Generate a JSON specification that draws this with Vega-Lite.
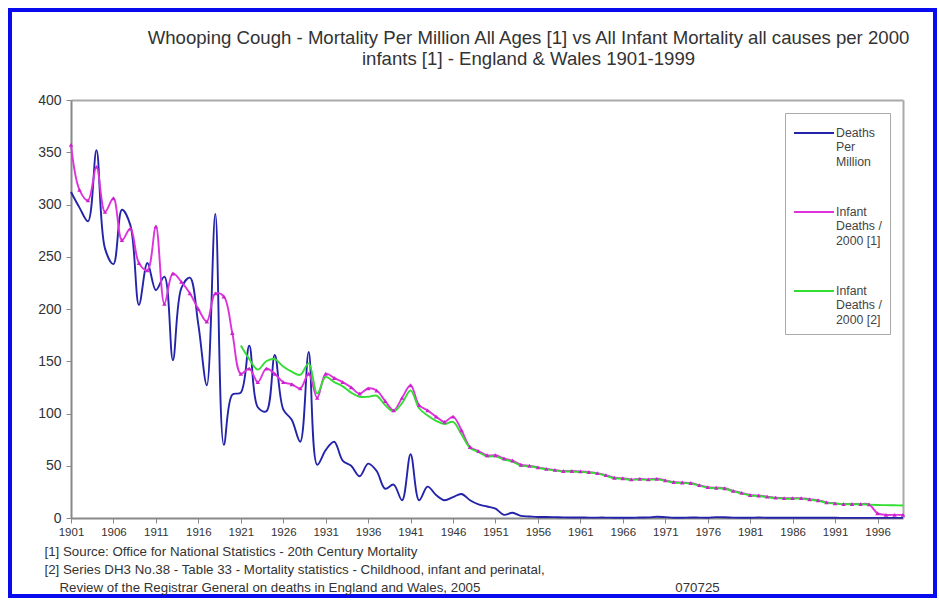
{
  "$schema": "https://vega.github.io/schema/vega-lite/v6.json",
  "width": 925,
  "height": 586,
  "autosize": "none",
  "padding": {"left": 10, "top": 10, "right": 4, "bottom": 6},
  "background": "white",
  "config": {
    "font": "Liberation Sans",
    "view": {"stroke": "#0a0aee", "strokeWidth": 4, "fill": "white"}
  },
  "title": {
    "text": ["Whooping Cough - Mortality Per Million All Ages [1] vs All Infant Mortality all causes per 2000", "infants [1] - England & Wales 1901-1999"],
    "anchor": "middle",
    "frame": "group",
    "offset": -59,
    "dx": 56,
    "fontSize": 18.6,
    "fontWeight": "normal",
    "color": "#333333",
    "lineHeight": 21,
    "font": "Liberation Sans"
  },
  "data": {"values": [
    {"year": 1901, "deaths": 312, "infant1": 357, "infant2": null},
    {"year": 1902, "deaths": 297, "infant1": 314, "infant2": null},
    {"year": 1903, "deaths": 284, "infant1": 304, "infant2": null},
    {"year": 1904, "deaths": 352, "infant1": 336, "infant2": null},
    {"year": 1905, "deaths": 258, "infant1": 293, "infant2": null},
    {"year": 1906, "deaths": 243, "infant1": 306, "infant2": null},
    {"year": 1907, "deaths": 295, "infant1": 266, "infant2": null},
    {"year": 1908, "deaths": 280, "infant1": 277, "infant2": null},
    {"year": 1909, "deaths": 204, "infant1": 244, "infant2": null},
    {"year": 1910, "deaths": 244, "infant1": 237, "infant2": null},
    {"year": 1911, "deaths": 218, "infant1": 279, "infant2": null},
    {"year": 1912, "deaths": 231, "infant1": 205, "infant2": null},
    {"year": 1913, "deaths": 151, "infant1": 234, "infant2": null},
    {"year": 1914, "deaths": 220, "infant1": 226, "infant2": null},
    {"year": 1915, "deaths": 230, "infant1": 215, "infant2": null},
    {"year": 1916, "deaths": 185, "infant1": 200, "infant2": null},
    {"year": 1917, "deaths": 127, "infant1": 188, "infant2": null},
    {"year": 1918, "deaths": 291, "infant1": 215, "infant2": null},
    {"year": 1919, "deaths": 70, "infant1": 212, "infant2": null},
    {"year": 1920, "deaths": 118, "infant1": 177, "infant2": null},
    {"year": 1921, "deaths": 120, "infant1": 138, "infant2": 165},
    {"year": 1922, "deaths": 165, "infant1": 143, "infant2": 152},
    {"year": 1923, "deaths": 106, "infant1": 130, "infant2": 142},
    {"year": 1924, "deaths": 102, "infant1": 143, "infant2": 150},
    {"year": 1925, "deaths": 156, "infant1": 138, "infant2": 152},
    {"year": 1926, "deaths": 104, "infant1": 130, "infant2": 145},
    {"year": 1927, "deaths": 94, "infant1": 128, "infant2": 140},
    {"year": 1928, "deaths": 73, "infant1": 124, "infant2": 137},
    {"year": 1929, "deaths": 159, "infant1": 138, "infant2": 148},
    {"year": 1930, "deaths": 51, "infant1": 115, "infant2": 119},
    {"year": 1931, "deaths": 65, "infant1": 138, "infant2": 135},
    {"year": 1932, "deaths": 73, "infant1": 134, "infant2": 130},
    {"year": 1933, "deaths": 55, "infant1": 130, "infant2": 126},
    {"year": 1934, "deaths": 50, "infant1": 125, "infant2": 120},
    {"year": 1935, "deaths": 40, "infant1": 119, "infant2": 116},
    {"year": 1936, "deaths": 52, "infant1": 124, "infant2": 116},
    {"year": 1937, "deaths": 45, "infant1": 122, "infant2": 117},
    {"year": 1938, "deaths": 28, "infant1": 112, "infant2": 108},
    {"year": 1939, "deaths": 32, "infant1": 103, "infant2": 102},
    {"year": 1940, "deaths": 17, "infant1": 115, "infant2": 110},
    {"year": 1941, "deaths": 61, "infant1": 127, "infant2": 122},
    {"year": 1942, "deaths": 17, "infant1": 108, "infant2": 105},
    {"year": 1943, "deaths": 30, "infant1": 103, "infant2": 98},
    {"year": 1944, "deaths": 22, "infant1": 97, "infant2": 93},
    {"year": 1945, "deaths": 17, "infant1": 92, "infant2": 90},
    {"year": 1946, "deaths": 20, "infant1": 97, "infant2": 92},
    {"year": 1947, "deaths": 23, "infant1": 84, "infant2": 80},
    {"year": 1948, "deaths": 17, "infant1": 68, "infant2": 67},
    {"year": 1949, "deaths": 13, "infant1": 64, "infant2": 63},
    {"year": 1950, "deaths": 11, "infant1": 60, "infant2": 59},
    {"year": 1951, "deaths": 9, "infant1": 60, "infant2": 59},
    {"year": 1952, "deaths": 3, "infant1": 57, "infant2": 56},
    {"year": 1953, "deaths": 5, "infant1": 55, "infant2": 54},
    {"year": 1954, "deaths": 2, "infant1": 51, "infant2": 50},
    {"year": 1955, "deaths": 1.5, "infant1": 50, "infant2": 49.5},
    {"year": 1956, "deaths": 1, "infant1": 48.5, "infant2": 48},
    {"year": 1957, "deaths": 1, "infant1": 47, "infant2": 46.5},
    {"year": 1958, "deaths": 0.8, "infant1": 46, "infant2": 45.5},
    {"year": 1959, "deaths": 0.6, "infant1": 45, "infant2": 44.5},
    {"year": 1960, "deaths": 0.5, "infant1": 45, "infant2": 44.5},
    {"year": 1961, "deaths": 0.5, "infant1": 44.6, "infant2": 44},
    {"year": 1962, "deaths": 0.4, "infant1": 44, "infant2": 43.5},
    {"year": 1963, "deaths": 0.4, "infant1": 43, "infant2": 42.5},
    {"year": 1964, "deaths": 0.4, "infant1": 41, "infant2": 40.5},
    {"year": 1965, "deaths": 0.3, "infant1": 38.5, "infant2": 38},
    {"year": 1966, "deaths": 0.3, "infant1": 38, "infant2": 37.5},
    {"year": 1967, "deaths": 0.3, "infant1": 37, "infant2": 36.5},
    {"year": 1968, "deaths": 0.5, "infant1": 37.5, "infant2": 37},
    {"year": 1969, "deaths": 0.6, "infant1": 37, "infant2": 36.5},
    {"year": 1970, "deaths": 1.2, "infant1": 37.5, "infant2": 37},
    {"year": 1971, "deaths": 0.8, "infant1": 36, "infant2": 35.5},
    {"year": 1972, "deaths": 0.3, "infant1": 34.5, "infant2": 34},
    {"year": 1973, "deaths": 0.3, "infant1": 34, "infant2": 33.5},
    {"year": 1974, "deaths": 0.5, "infant1": 33.5, "infant2": 33},
    {"year": 1975, "deaths": 0.4, "infant1": 31.5, "infant2": 31},
    {"year": 1976, "deaths": 0.3, "infant1": 29.5, "infant2": 29},
    {"year": 1977, "deaths": 0.8, "infant1": 29, "infant2": 28.5},
    {"year": 1978, "deaths": 0.7, "infant1": 28.5, "infant2": 28},
    {"year": 1979, "deaths": 0.4, "infant1": 26, "infant2": 25.5},
    {"year": 1980, "deaths": 0.3, "infant1": 24, "infant2": 23.5},
    {"year": 1981, "deaths": 0.3, "infant1": 22, "infant2": 21.5},
    {"year": 1982, "deaths": 0.5, "infant1": 21.5, "infant2": 21},
    {"year": 1983, "deaths": 0.3, "infant1": 20.5, "infant2": 20},
    {"year": 1984, "deaths": 0.2, "infant1": 19.5, "infant2": 19},
    {"year": 1985, "deaths": 0.2, "infant1": 19, "infant2": 18.5},
    {"year": 1986, "deaths": 0.3, "infant1": 19, "infant2": 18.5},
    {"year": 1987, "deaths": 0.2, "infant1": 19, "infant2": 18.5},
    {"year": 1988, "deaths": 0.2, "infant1": 18, "infant2": 17.5},
    {"year": 1989, "deaths": 0.2, "infant1": 17, "infant2": 16.5},
    {"year": 1990, "deaths": 0.2, "infant1": 15, "infant2": 14.5},
    {"year": 1991, "deaths": 0.2, "infant1": 14, "infant2": 13.8},
    {"year": 1992, "deaths": 0.1, "infant1": 13.4, "infant2": 13.2},
    {"year": 1993, "deaths": 0.1, "infant1": 13.4, "infant2": 13.2},
    {"year": 1994, "deaths": 0.1, "infant1": 13.4, "infant2": 13.2},
    {"year": 1995, "deaths": 0.1, "infant1": 13, "infant2": 12.8},
    {"year": 1996, "deaths": 0.1, "infant1": 4.5, "infant2": 12.5},
    {"year": 1997, "deaths": 0.1, "infant1": 3, "infant2": 12.3},
    {"year": 1998, "deaths": 0.1, "infant1": 3, "infant2": 12.2},
    {"year": 1999, "deaths": 0.1, "infant1": 3, "infant2": 12}
  ]},
  "transform": [{"fold": ["deaths", "infant1", "infant2"], "as": ["series", "value"]}],
  "encoding": {
    "x": {"field": "year", "type": "quantitative", "scale": {"domain": [1901, 1999], "range": [61, 893], "nice": false, "zero": false}},
    "y": {"field": "value", "type": "quantitative", "scale": {"domain": [0, 400], "range": [508, 90], "nice": false}}
  },
  "layer": [
    {
      "mark": {"type": "line", "interpolate": "catmull-rom", "strokeWidth": 1.9},
      "encoding": {
        "x": {"field": "year", "type": "quantitative", "axis": {
          "orient": "bottom", "offset": -78, "grid": false,
          "values": [1901, 1906, 1911, 1916, 1921, 1926, 1931, 1936, 1941, 1946, 1951, 1956, 1961, 1966, 1971, 1976, 1981, 1986, 1991, 1996],
          "format": "d", "labelFlush": false, "labelOverlap": false,
          "labelFontSize": 11.5, "labelColor": "#333333", "labelPadding": 3,
          "tickSize": 5, "tickColor": "#888888", "domainColor": "#888888", "domainWidth": 2,
          "title": ["[1] Source: Office for National Statistics - 20th Century Mortality", "[2] Series DH3 No.38 - Table 33 - Mortality statistics - Childhood, infant and perinatal,"],
          "titleX": 34, "titleY": 26, "titleAlign": "left", "titleAnchor": "start", "titleBaseline": "top",
          "titleFontSize": 13.3, "titleFontWeight": "normal", "titleColor": "#333333", "titleLineHeight": 18.5
        }},
        "y": {"field": "value", "type": "quantitative", "axis": {
          "orient": "left", "offset": -61, "grid": false,
          "values": [0, 50, 100, 150, 200, 250, 300, 350, 400],
          "labelFlush": false, "labelOverlap": false,
          "labelFontSize": 14, "labelColor": "#333333", "labelPadding": 5,
          "tickSize": 5, "tickColor": "#888888", "domainColor": "#888888", "domainWidth": 2,
          "title": null
        }},
        "color": {"field": "series", "type": "nominal",
          "scale": {"domain": ["deaths", "infant1", "infant2"], "range": ["#2424aa", "#dd33dd", "#33dd33"]},
          "legend": {
            "orient": "none", "legendX": 775, "legendY": 103, "title": null,
            "symbolType": "stroke", "symbolSize": 1600, "symbolStrokeWidth": 2,
            "labelExpr": "datum.value == 'deaths' ? ['Deaths', 'Per', 'Million'] : datum.value == 'infant1' ? ['Infant', 'Deaths /', '2000 [1]'] : ['Infant', 'Deaths /', '2000 [2]']",
            "labelFontSize": 12.3, "labelColor": "#444444", "labelBaseline": "alphabetic", "labelLimit": 200, "labelOffset": 1, "labelLineHeight": 15.5,
            "rowPadding": 32, "padding": 8, "strokeColor": "#aaaaaa", "fillColor": "white",
            "encode": {
              "symbols": {"update": {"y": {"value": 12}}},
              "labels": {"update": {"y": {"value": 16}}}
            }
          }
        }
      }
    },
    {
      "transform": [{"filter": "datum.series == 'infant1'"}],
      "mark": {"type": "point", "shape": "triangle-up", "filled": true, "size": 20, "color": "#cc22cc", "opacity": 1},
      "encoding": {
        "x": {"field": "year", "type": "quantitative", "axis": {
          "orient": "top", "offset": -90, "grid": false, "labels": false, "ticks": false,
          "domainColor": "#aaaaaa", "domainWidth": 2,
          "title": "Review of the Registrar General on deaths in England and Wales, 2005",
          "titleX": 49, "titleY": 487, "titleAlign": "left", "titleAnchor": "start", "titleBaseline": "middle",
          "titleFontSize": 13.3, "titleFontWeight": "normal", "titleColor": "#333333"
        }},
        "y": {"field": "value", "type": "quantitative", "axis": {
          "orient": "right", "offset": -32, "grid": false, "labels": false, "ticks": false,
          "domainColor": "#aaaaaa", "domainWidth": 2,
          "title": "070725", "titleAngle": 0, "titleX": -206, "titleY": 577, "titleAlign": "center", "titleBaseline": "middle",
          "titleFontSize": 13.3, "titleFontWeight": "normal", "titleColor": "#333333"
        }}
      }
    }
  ],
  "resolve": {"axis": {"x": "independent", "y": "independent"}}
}
